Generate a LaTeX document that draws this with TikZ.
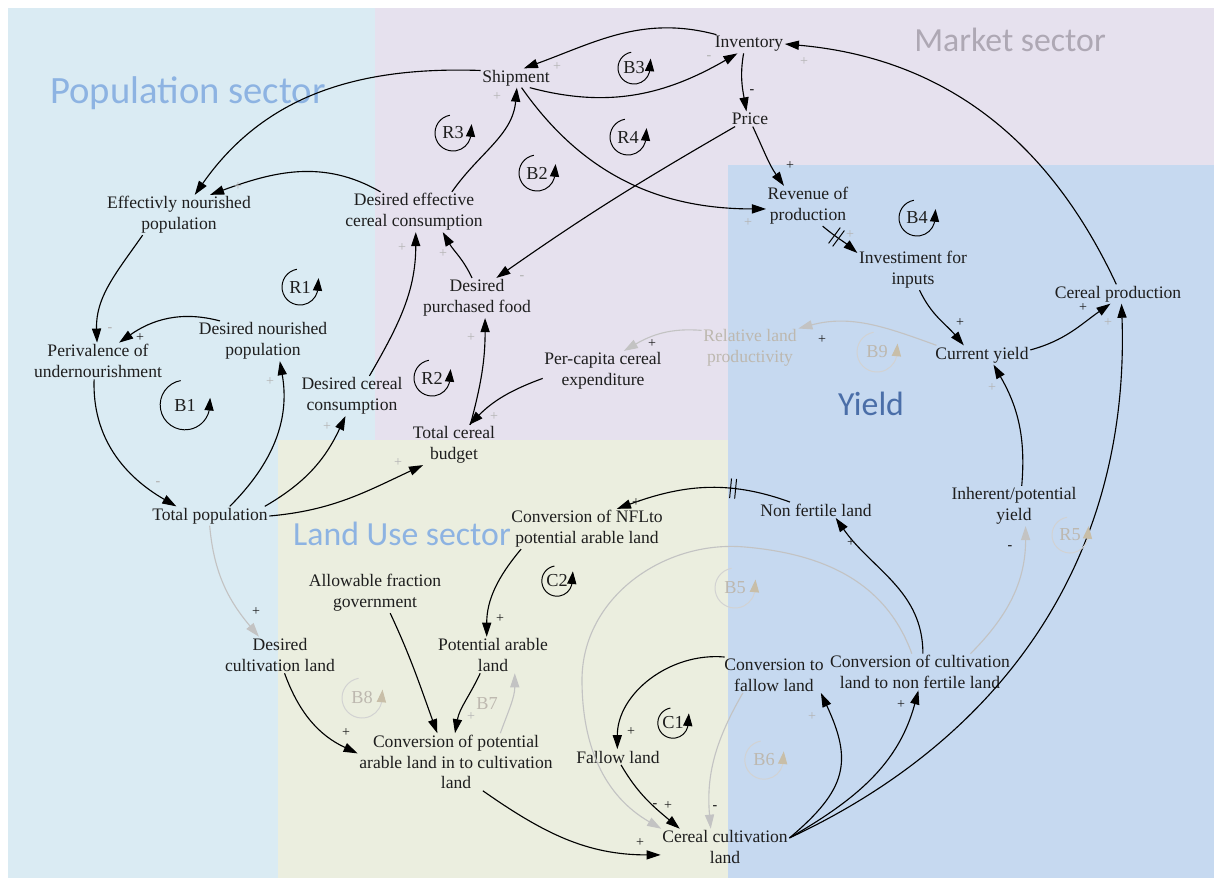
\documentclass[tikz,border=0pt]{standalone}
\usepackage{fontspec}
\setmainfont{Liberation Serif}
\newfontfamily\varfont{Liberation Serif}
\newfontfamily\secfont{Carlito}
\usetikzlibrary{arrows.meta,decorations.markings}
\definecolor{popbg}{HTML}{DAEBF3}
\definecolor{mktbg}{HTML}{E6E1EE}
\definecolor{yldbg}{HTML}{C6D9F0}
\definecolor{landbg}{HTML}{EBEEDF}
\definecolor{popfg}{HTML}{8DB3E2}
\definecolor{mktfg}{HTML}{AEA8B4}
\definecolor{yldfg}{HTML}{4A6EA8}
\definecolor{txt}{HTML}{1E1E1E}
\definecolor{faint}{HTML}{C3C3C3}
\definecolor{faintlab}{HTML}{BDB8AF}
\definecolor{lpcircle}{HTML}{D2D2D2}
\definecolor{lparrow}{HTML}{C8BEA8}
\definecolor{signgray}{HTML}{B4B4B4}
\newcommand\lpk[4]{%
  \node[lab] (#1) at (#2,-#3) {#1};
  \draw[line width=0.7pt,-{Triangle[length=9pt,width=6.5pt]}] (#1.center) ++(100:#4) arc[start angle=100,end angle=345,radius=#4] -- ++(0.03cm,0.34cm);}
\newcommand\lpg[4]{%
  \node[lab,text=faintlab] (#1) at (#2,-#3) {#1};
  \draw[line width=0.7pt,lpcircle,-{Triangle[length=9pt,width=6.5pt,color=lparrow]}] (#1.center) ++(100:#4) arc[start angle=100,end angle=345,radius=#4] -- ++(0.03cm,0.34cm);}
\begin{document}
\begin{tikzpicture}[x=0.025cm,y=0.025cm,
 var/.style={font=\varfont\fontsize{12.5}{14.8}\selectfont,text=txt,align=center,inner sep=1pt},
 lab/.style={font=\varfont\fontsize{13}{15}\selectfont,text=txt,inner sep=0pt},
 lk/.style={draw=black,line width=0.8pt,-{Triangle[length=10pt,width=6.5pt]}},
 glk/.style={draw=faint,line width=0.8pt,-{Triangle[length=10pt,width=6.5pt]}},
 sg/.style={font=\varfont\fontsize{10}{10}\selectfont,text=txt,inner sep=0pt},
 gsg/.style={font=\varfont\fontsize{10}{10}\selectfont,text=signgray,inner sep=0pt},
 sect/.style={font=\secfont\fontsize{24}{28}\selectfont,inner sep=0pt},
 delaymark/.style={postaction={decorate,decoration={markings,mark=at position #1 with {\draw[black,line width=0.7pt,-] (-1.8pt,-7pt)--(-1.8pt,7pt) (1.8pt,-7pt)--(1.8pt,7pt);}}}}]
\useasboundingbox (0,0) rectangle (1214,-879);
\fill[white] (0,0) rectangle (1214,-879);
% sector backgrounds
\fill[popbg] (8,-8) rectangle (375,-878);
\fill[mktbg] (375,-8) rectangle (1214,-440);
\fill[yldbg] (728,-165) rectangle (1214,-878);
\fill[landbg] (278,-440) rectangle (728,-878);
% sector titles
\node[sect,text=popfg,font=\secfont\fontsize{27.5}{31}\selectfont] (secpop) at (188,-93) {Population sector};
\node[sect,text=mktfg] (secmkt) at (1010,-40) {Market sector};
\node[sect,text=yldfg] (secyld) at (871,-404) {Yield};
\node[sect,text=popfg] (secland) at (402,-534) {Land Use sector};
% variables
\node[var] (inv) at (749,-44) {Inventory};
\node[var] (ship) at (516,-78) {Shipment};
\node[var] (price) at (750,-119) {Price};
\node[var] (rev) at (808,-206) {Revenue of\\production};
\node[var] (ifi) at (913,-270) {Investiment for\\inputs};
\node[var] (cp) at (1118,-294) {Cereal production};
\node[var] (cy) at (982,-355) {Current yield};
\node[var] (enp) at (179,-215) {Effectivly nourished\\population};
\node[var] (dec) at (414,-212) {Desired effective\\cereal consumption};
\node[var] (dpf) at (477,-298) {Desired\\purchased food};
\node[var] (dnp) at (263,-341) {Desired nourished\\population};
\node[var] (piu) at (98,-361) {Perivalence of\\undernourishment};
\node[var] (dcc) at (352,-396) {Desired cereal\\consumption};
\node[var] (pce) at (603,-371) {Per-capita cereal\\expenditure};
\node[var,text=faintlab] (rlp) at (750,-348) {Relative land\\productivity};
\node[var] (tcb) at (454,-445) {Total cereal\\budget};
\node[var] (tp) at (210,-516) {Total population};
\node[var] (nfl) at (816,-510) {Non fertile land};
\node[var] (ipy) at (1014,-506) {Inherent/potential\\yield};
\node[var] (cnfl) at (587,-529) {Conversion of NFLto\\potential arable land};
\node[var] (afg) at (375,-593) {Allowable fraction\\government};
\node[var] (pal) at (493,-655) {Potential arable\\land};
\node[var] (dcl) at (280,-655) {Desired\\cultivation land};
\node[var] (ctf) at (774,-675) {Conversion to\\fallow land};
\node[var] (cclnf) at (920,-672) {Conversion of cultivation\\land to non fertile land};
\node[var] (fl) at (618,-757) {Fallow land};
\node[var] (cpal) at (456,-762) {Conversion of potential\\arable land in to cultivation\\land};
\node[var] (ccl) at (725,-847) {Cereal cultivation\\land};
% waypoints
\coordinate (b5t) at (745,-547);
\coordinate (b5l) at (582,-680);
% faint links
\draw[glk] (tp.268) to[out=275,in=130] (dcl.139);
\draw[glk] (rlp.160) to[out=175,in=30] (pce.44);
\draw[glk] (cy.168) to[out=160,in=15] (rlp.22);
\draw[glk] (cclnf.114) to[out=110,in=-5] (b5t) to[out=175,in=90] (b5l) to[out=-90,in=150] (ccl.164);
\draw[glk] (ctf.210) to[out=240,in=95] (ccl.128);
\draw[glk] (cclnf.20) to[out=45,in=270] (ipy.300);
\draw[glk] (cpal.33) to[out=70,in=270] (pal.320);
% black links
\draw[lk] (inv.164) to[out=165,in=20] (ship.51);
\draw[lk] (ship.325) to[out=-15,in=210] (inv.219);
\draw[lk] (inv.240) to[out=260,in=100] (price.115);
\draw[lk] (price.290) to[out=-65,in=125] (rev.140);
\draw[lk] (price.207) to[out=210,in=35] (dpf.46);
\draw[lk] (ship.300) to[out=-55,in=180] (rev.184);
\draw[lk] (ship.168) to[out=178,in=55] (enp.52);
\draw[lk] (dec.149) to[out=150,in=20] (enp.33);
\draw[lk] (dec.28) to[out=55,in=265] (ship.275);
\draw[lk] (enp.209) to[out=235,in=92] (piu.93);
\draw[lk] (dnp.155) to[out=165,in=35] (piu.41);
\draw[lk] (piu.258) to[out=268,in=150] (tp.164);
\draw[lk] (tp.26) to[out=45,in=280] (dnp.310);
\draw[lk] (tp.10) to[out=30,in=245] (dcc.252);
\draw[lk] (tp.0) to[out=5,in=205] (tcb.213);
\draw[lk] (dcl.284) to[out=290,in=155] (cpal.175);
\draw[lk] (afg.307) to[out=295,in=110] (cpal.123);
\draw[lk] (pal.235) to[out=245,in=80] (cpal.92);
\draw[lk] (cnfl.197) to[out=230,in=90] (pal.109);
\draw[lk,delaymark=0.33] (nfl.163) to[out=160,in=20] (cnfl.34);
\draw[lk] (dcc.49) to[out=60,in=270] (dec.275);
\draw[lk] (dpf.104) to[out=115,in=300] (dec.325);
\draw[lk] (tcb.51) to[out=75,in=270] (dpf.292);
\draw[lk] (pce.187) to[out=200,in=45] (tcb.53);
\draw[lk,delaymark=0.4] (rev.306) to[out=-40,in=140] (ifi.163);
\draw[lk] (ifi.288) to[out=-65,in=130] (cy.152);
\draw[lk] (cy.6) to[out=15,in=215] (cp.232);
\draw[lk] (cp.100) to[out=115,in=-5] (inv.0);
\draw[lk] (ipy.69) to[out=85,in=300] (cy.320);
\draw[lk] (ccl.8) to[out=25,in=272] (cp.290);
\draw[lk] (ccl.8) to[out=40,in=295,looseness=1.3] (ctf.339);
\draw[lk] (ccl.8) to[out=30,in=255] (cclnf.265);
\draw[lk] (cclnf.81) to[out=90,in=305] (nfl.338);
\draw[lk] (ctf.160) to[out=175,in=90] (fl.95);
\draw[lk] (fl.291) to[out=-60,in=140] (ccl.158);
\draw[lk] (cpal.313) to[out=-35,in=180] (ccl.187);
% polarity signs
\foreach \x/\y [count=\i] in {790/166,822/340,652/344,960/323,1083/308,851/543,901/705,256/612,346/733,500/619,631/732,668/806,640/843,140/338,636/503}
  \node[sg] (bp\i) at (\x,-\y) {+};
\foreach \x/\y [count=\i] in {752/92,1010/548,655/806,715/808}
  \node[sg] (bm\i) at (\x,-\y) {\textbf{-}};
\foreach \x/\y [count=\i] in {557/67,497/97,804/62,748/223,402/248,443/254,471/338,494/417,270/382,327/427,398/463,238/187,850/235,1108/323,992/388,812/717,471/717}
  \node[gsg] (gp\i) at (\x,-\y) {+};
\foreach \x/\y [count=\i] in {709/58,522/278,158/484,110/330}
  \node[gsg] (gm\i) at (\x,-\y) {\textbf{-}};
% loop markers
\lpk{R1}{300}{287}{0.45cm}
\lpk{R2}{432}{378}{0.45cm}
\lpk{R3}{453}{133}{0.45cm}
\lpk{R4}{628}{137}{0.45cm}
\lpk{B2}{537}{173}{0.45cm}
\lpk{B3}{634}{68}{0.4cm}
\lpk{B4}{917}{218}{0.45cm}
\lpk{B1}{185}{405}{0.62cm}
\lpk{C2}{557}{581}{0.38cm}
\lpk{C1}{673}{723}{0.38cm}
\lpg{B5}{735}{588}{0.5cm}
\lpg{B6}{764}{760}{0.48cm}
\lpg{B8}{362}{698}{0.5cm}
\lpg{B9}{877}{352}{0.5cm}
\lpg{R5}{1070}{535}{0.45cm}
\node[lab,text=faintlab] (B7) at (487,-704) {B7};
\end{tikzpicture}
\end{document}
